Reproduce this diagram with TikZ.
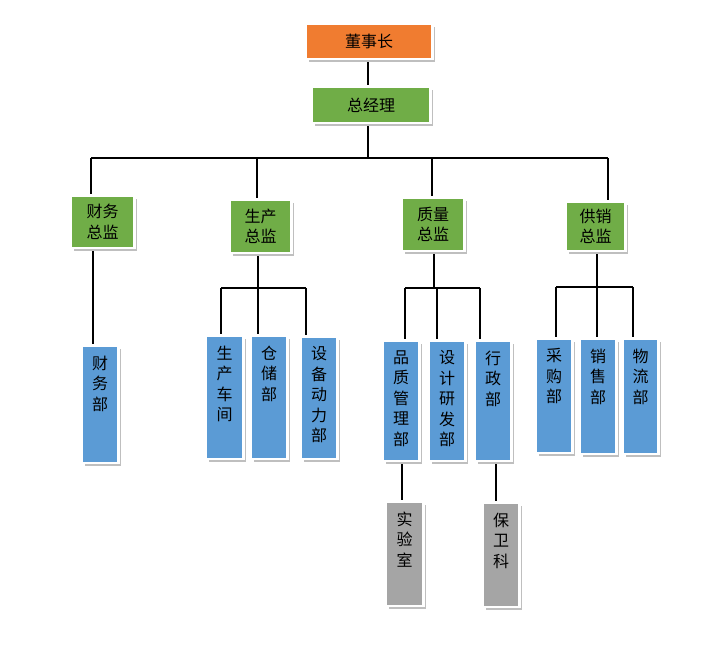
\documentclass[tikz,border=0pt]{standalone}
\usepackage{fontspec}
\setmainfont{Noto Sans CJK SC}
\usetikzlibrary{shadows,backgrounds}
\definecolor{orn}{HTML}{F07C30}
\definecolor{grn}{HTML}{70AD47}
\definecolor{blu}{HTML}{5B9BD5}
\definecolor{gry}{HTML}{A5A5A5}
\tikzset{
 box/.style={draw=white, line width=2.5pt, inner sep=0pt,
   general shadow={fill=black!25, shadow xshift=3pt, shadow yshift=-3pt}},
 lbl/.style={font=\fontsize{16}{20.5}\selectfont, align=center, inner sep=0pt, text=black},
 conn/.style={line width=1.1pt, black},
}
\newcommand\mkbox[6]{\node[box, fill=#6, minimum width={(#4-#2+2.5)*1pt}, minimum height={(#5-#3+2.5)*1pt}] (#1) at ({(#2+#4)/2},{(#3+#5)/2}) {};}
\begin{document}
\begin{tikzpicture}[x=1pt,y=-1pt]
\useasboundingbox (0,0) rectangle (716,668);
% boxes
\mkbox{dsz}{307}{25}{431}{58}{orn}
\mkbox{zjl}{313}{88}{429}{122}{grn}
\mkbox{cw}{72}{197}{133}{247}{grn}
\mkbox{sc}{231}{201}{290}{252}{grn}
\mkbox{zl}{403}{199}{463}{250}{grn}
\mkbox{gx}{567}{203}{624}{250}{grn}
\mkbox{cwb}{83}{347}{117}{462}{blu}
\mkbox{scjj}{207}{337}{242}{458}{blu}
\mkbox{ccb}{252}{337}{286}{458}{blu}
\mkbox{sbdl}{302}{338}{336}{458}{blu}
\mkbox{pzgl}{384}{342}{418}{460}{blu}
\mkbox{sjyf}{430}{342}{464}{460}{blu}
\mkbox{xzb}{476}{342}{510}{460}{blu}
\mkbox{cgb}{537}{340}{571}{452}{blu}
\mkbox{xsb}{581}{340}{615}{453}{blu}
\mkbox{wlb}{624}{340}{657}{453}{blu}
\mkbox{sys}{387}{503}{422}{605}{gry}
\mkbox{bwk}{484}{504}{518}{606}{gry}
% texts
\node[lbl] (dsz-t) at (dsz.center) {董事长};
\node[lbl] (zjl-t) at (zjl.center) {总经理};
\node[lbl] (cw-t) at (cw.center) {财务\\总监};
\node[lbl] (sc-t) at (sc.center) {生产\\总监};
\node[lbl] (zl-t) at (zl.center) {质量\\总监};
\node[lbl] (gx-t) at (gx.center) {供销\\总监};
\foreach \n/\t in {cwb/{财\\务\\部}, scjj/{生\\产\\车\\间}, ccb/{仓\\储\\部}, sbdl/{设\\备\\动\\力\\部},
  pzgl/{品\\质\\管\\理\\部}, sjyf/{设\\计\\研\\发\\部}, xzb/{行\\政\\部},
  cgb/{采\\购\\部}, xsb/{销\\售\\部}, wlb/{物\\流\\部}, sys/{实\\验\\室}, bwk/{保\\卫\\科}}
  \node[lbl, anchor=north] (\n-t) at ([yshift=-11pt]\n.north) {\t};
% connectors
\begin{pgfonlayer}{background}
\fill[white] (0,0) rectangle (716,668);
\coordinate (trunk) at (368,158);
\coordinate (barL) at (91,158);
\coordinate (barR) at (608,158);
\coordinate (b2) at (257,158);
\coordinate (b3) at (432,158);
\draw[conn] (trunk |- dsz.south) -- (trunk |- zjl.north);
\draw[conn] (trunk |- zjl.south) -- (trunk);
\draw[conn] (barL) -- (barR);
\draw[conn] (barL) -- (barL |- cw.north);
\draw[conn] (b2) -- (b2 |- sc.north);
\draw[conn] (b3) -- (b3 |- zl.north);
\draw[conn] (barR) -- (barR |- gx.north);
% finance
\coordinate (c1) at (93,300);
\draw[conn] (c1 |- cw.south) -- (c1 |- cwb.north);
% production
\coordinate (s0) at (258,288);
\coordinate (sL) at (221,288);
\coordinate (sR) at (306,288);
\draw[conn] (s0 |- sc.south) -- (s0);
\draw[conn] (sL) -- (sR);
\draw[conn] (sL) -- (sL |- scjj.north);
\draw[conn] (s0) -- (s0 |- ccb.north);
\draw[conn] (sR) -- (sR |- sbdl.north);
% quality
\coordinate (q0) at (434,288);
\coordinate (qL) at (405,288);
\coordinate (qM) at (437,288);
\coordinate (qR) at (480,288);
\draw[conn] (q0 |- zl.south) -- (q0);
\draw[conn] (qL) -- (qR);
\draw[conn] (qL) -- (qL |- pzgl.north);
\draw[conn] (qM) -- (qM |- sjyf.north);
\draw[conn] (qR) -- (qR |- xzb.north);
\coordinate (q1) at (402,480);
\draw[conn] (q1 |- pzgl.south) -- (q1 |- sys.north);
\coordinate (q2) at (496,480);
\draw[conn] (q2 |- xzb.south) -- (q2 |- bwk.north);
% supply & sales
\coordinate (g0) at (597,287);
\coordinate (gL) at (556,287);
\coordinate (gR) at (633,287);
\draw[conn] (g0 |- gx.south) -- (g0);
\draw[conn] (gL) -- (gR);
\draw[conn] (gL) -- (gL |- cgb.north);
\draw[conn] (g0) -- (g0 |- xsb.north);
\draw[conn] (gR) -- (gR |- wlb.north);
\end{pgfonlayer}
\end{tikzpicture}
\end{document}
